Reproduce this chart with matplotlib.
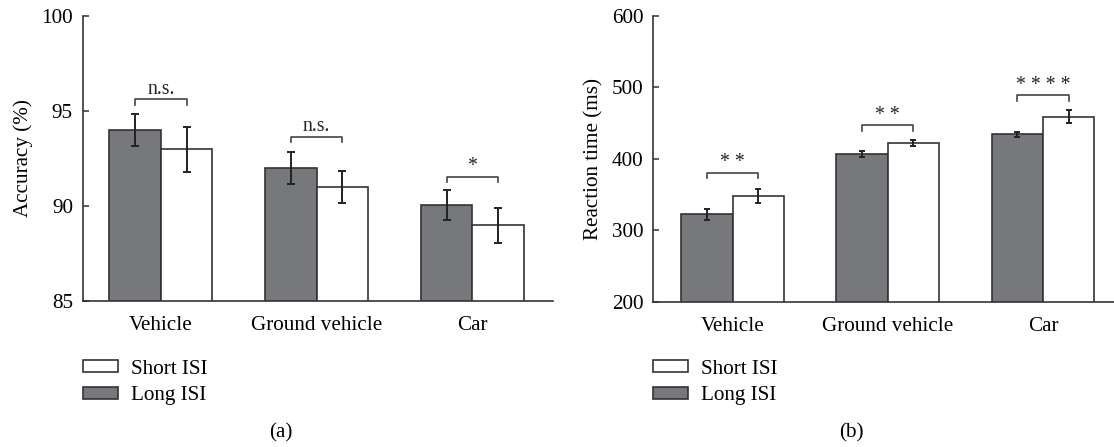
import matplotlib.pyplot as plt
from matplotlib.patches import Patch
import numpy as np

categories = ['Vehicle', 'Ground vehicle', 'Car']

# (a) accuracy (%)
acc_long = [93.98, 91.99, 90.05]
acc_long_err = [0.84, 0.84, 0.78]
acc_short = [92.97, 90.98, 88.96]
acc_short_err = [1.18, 0.86, 0.92]
acc_sig = ['n.s.', 'n.s.', '*']
acc_bracket = [95.6, 93.63, 91.52]

# (b) reaction time (ms)
rt_long = [322, 407, 434]
rt_long_err = [8, 4, 4]
rt_short = [348, 422, 459]
rt_short_err = [10, 4.5, 9]
rt_sig = ['* *', '* *', '* * * *']
rt_bracket = [380.5, 446.6, 488.5]

plt.rcParams['font.family'] = ['Liberation Serif', 'DejaVu Serif']
dark = '#77787c'
edge = '#333333'
fs = 15.2

fig = plt.figure(figsize=(11.14, 4.47), dpi=100)
ax_a = fig.add_axes([0.0742, 0.3273, 0.4219, 0.6376])
ax_b = fig.add_axes([0.5864, 0.3251, 0.4136, 0.6398])


def draw_panel(ax, long_v, long_e, short_v, short_e, sig, brk, tick_h,
               ylim, yticks, ylabel, xlim, capsize):
    x = np.arange(len(categories))
    w = 0.331
    ax.bar(x - w / 2, long_v, w, color=dark, edgecolor=edge, linewidth=1.2,
           zorder=2)
    ax.bar(x + w / 2, short_v, w, color='white', edgecolor=edge,
           linewidth=1.2, zorder=2)
    ax.errorbar(x - w / 2, long_v, yerr=long_e, fmt='none', ecolor='#222222',
                elinewidth=1.4, capsize=capsize, capthick=1.4, zorder=3)
    ax.errorbar(x + w / 2, short_v, yerr=short_e, fmt='none', ecolor='#222222',
                elinewidth=1.4, capsize=capsize, capthick=1.4, zorder=3)
    # significance brackets
    for i in range(len(categories)):
        x0, x1 = x[i] - w / 2, x[i] + w / 2
        ax.plot([x0, x0, x1, x1], [brk[i] - tick_h, brk[i], brk[i], brk[i] - tick_h],
                color='#444444', linewidth=1.2, zorder=3)
        ax.annotate(sig[i], (x[i], brk[i]), xytext=(0, 0.5),
                    textcoords='offset points', ha='center', va='bottom',
                    fontsize=fs - 1, color='#222222')
    ax.set_ylim(*ylim)
    ax.set_xlim(*xlim)
    ax.set_yticks(yticks)
    ax.set_xticks(x)
    ax.set_xticklabels(categories, fontsize=fs)
    ax.tick_params(axis='x', length=0, pad=11)
    ax.tick_params(axis='y', direction='in', length=4, width=1.1, pad=7,
                   labelsize=fs, color=edge)
    ax.set_ylabel(ylabel, fontsize=fs, labelpad=6)
    for s in ['top', 'right']:
        ax.spines[s].set_visible(False)
    for s in ['left', 'bottom']:
        ax.spines[s].set_color(edge)
        ax.spines[s].set_linewidth(1.2)


draw_panel(ax_a, acc_long, acc_long_err, acc_short, acc_short_err, acc_sig,
           acc_bracket, 0.29, (85, 100), [85, 90, 95, 100], 'Accuracy (%)',
           (-0.503, 2.516), 2.6)
draw_panel(ax_b, rt_long, rt_long_err, rt_short, rt_short_err, rt_sig,
           rt_bracket, 7.8, (200, 600), [200, 300, 400, 500, 600],
           'Reaction time (ms)', (-0.512, 2.458), 2.3)

handles = [Patch(facecolor='white', edgecolor=edge, linewidth=1.2, label='Short ISI'),
           Patch(facecolor=dark, edgecolor=edge, linewidth=1.2, label='Long ISI')]
for lx in [82.7, 652.7]:
    fig.legend(handles=handles, loc='upper left',
               bbox_to_anchor=(lx / 1114, (447 - 359.5) / 447),
               frameon=False, fontsize=fs, borderpad=0, borderaxespad=0,
               handlelength=1.65, handleheight=0.5, handletextpad=0.65,
               labelspacing=0.36)

fig.text(281 / 1114, 1 - 433.3 / 447, '(a)', ha='center', va='center', fontsize=fs)
fig.text(851 / 1114, 1 - 433.3 / 447, '(b)', ha='center', va='center', fontsize=fs)

fig.savefig('out.png', dpi=100)
